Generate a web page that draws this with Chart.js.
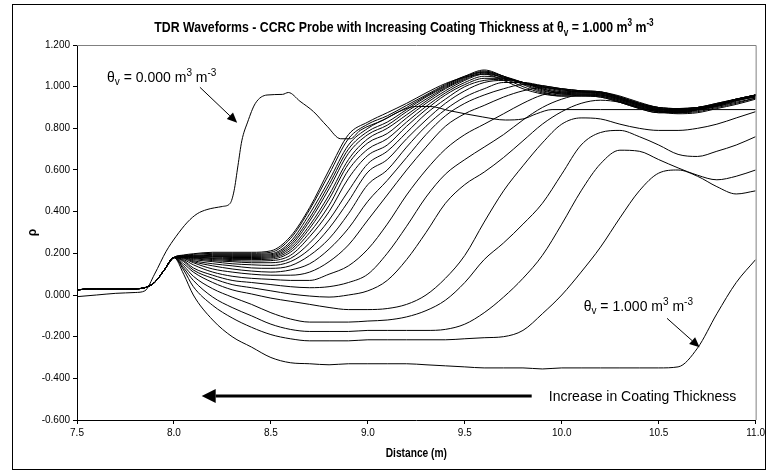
<!DOCTYPE html>
<html>
<head>
<meta charset="utf-8">
<script src="https://cdn.jsdelivr.net/npm/chart.js@4.4.1/dist/chart.umd.min.js"></script>
<style>
  html, body { margin: 0; padding: 0; background: #fff; }
  canvas { display: block; }
</style>
</head>
<body>
<canvas id="tdrChart" width="768" height="471"></canvas>
<script>
// distance grid (m) shared by the probe waveforms
const distance = [7.5, 7.6, 7.7, 7.8, 7.85, 7.9, 7.95, 8.0, 8.05, 8.1,
  8.2, 8.3, 8.4, 8.5, 8.6, 8.7, 8.8, 8.9, 9.0, 9.1, 9.2, 9.3, 9.4, 9.5, 9.6,
  9.7, 9.8, 9.9, 10.0, 10.1, 10.2, 10.3, 10.4, 10.5, 10.6, 10.7, 10.8, 10.9, 11.0];

// uncoated probe in water (theta = 1.000)
const water = [0.025, 0.03, 0.028, 0.03, 0.035, 0.06, 0.12, 0.18, 0.10, 0.00,
  -0.12, -0.20, -0.25, -0.30, -0.325, -0.33, -0.335, -0.33, -0.33, -0.33, -0.33, -0.335, -0.34, -0.345, -0.35,
  -0.35, -0.35, -0.355, -0.35, -0.35, -0.35, -0.35, -0.35, -0.35, -0.345, -0.255, -0.09, 0.06, 0.17];

// coated probes, thinnest coating first
const coat1 = [0.025, 0.03, 0.028, 0.03, 0.035, 0.06, 0.12, 0.18, 0.12, 0.04,
  -0.05, -0.11, -0.155, -0.19, -0.21, -0.22, -0.22, -0.22, -0.215, -0.215, -0.215, -0.215, -0.215, -0.21, -0.205,
  -0.20, -0.17, -0.09, 0.00, 0.11, 0.23, 0.37, 0.50, 0.585, 0.60, 0.57, 0.52, 0.485, 0.50];
const coat2 = [0.025, 0.03, 0.028, 0.03, 0.035, 0.06, 0.12, 0.18, 0.13, 0.07,
  -0.01, -0.06, -0.10, -0.14, -0.165, -0.175, -0.175, -0.175, -0.17, -0.17, -0.17, -0.17, -0.165, -0.14, -0.085,
  -0.01, 0.08, 0.19, 0.34, 0.50, 0.63, 0.695, 0.69, 0.65, 0.61, 0.575, 0.553, 0.57, 0.60];
const coat3 = [0.025, 0.03, 0.028, 0.03, 0.035, 0.06, 0.12, 0.18, 0.14, 0.09,
  0.03, -0.01, -0.045, -0.085, -0.115, -0.13, -0.13, -0.13, -0.125, -0.12, -0.105, -0.075, -0.025, 0.06, 0.17,
  0.25, 0.34, 0.44, 0.58, 0.72, 0.78, 0.79, 0.76, 0.72, 0.675, 0.665, 0.69, 0.72, 0.76];
const coat4 = [0.025, 0.03, 0.028, 0.03, 0.035, 0.06, 0.12, 0.18, 0.15, 0.11,
  0.06, 0.025, 0.005, -0.015, -0.03, -0.045, -0.06, -0.07, -0.07, -0.065, -0.045, 0.00, 0.08, 0.19, 0.35,
  0.50, 0.62, 0.73, 0.82, 0.85, 0.845, 0.82, 0.80, 0.79, 0.79, 0.80, 0.82, 0.85, 0.88];
const coat5 = [0.025, 0.03, 0.028, 0.03, 0.035, 0.06, 0.12, 0.18, 0.16, 0.12,
  0.08, 0.05, 0.035, 0.02, 0.005, -0.005, -0.01, 0.00, 0.02, 0.07, 0.17, 0.30, 0.44, 0.53, 0.59,
  0.66, 0.74, 0.82, 0.88, 0.92, 0.935, 0.925, 0.90, 0.88, 0.87, 0.875, 0.895, 0.915, 0.94];
const coat6 = [0.025, 0.03, 0.028, 0.03, 0.035, 0.06, 0.12, 0.18, 0.165, 0.13,
  0.095, 0.07, 0.06, 0.05, 0.04, 0.035, 0.04, 0.06, 0.10, 0.20, 0.33, 0.47, 0.58, 0.65, 0.71,
  0.77, 0.84, 0.90, 0.94, 0.96, 0.96, 0.94, 0.91, 0.885, 0.875, 0.88, 0.90, 0.92, 0.945];
const coat7 = [0.025, 0.03, 0.028, 0.03, 0.035, 0.06, 0.12, 0.18, 0.17, 0.145,
  0.11, 0.09, 0.08, 0.075, 0.07, 0.07, 0.10, 0.14, 0.22, 0.34, 0.48, 0.60, 0.70, 0.77, 0.82,
  0.87, 0.92, 0.96, 0.975, 0.975, 0.97, 0.95, 0.92, 0.895, 0.885, 0.89, 0.905, 0.925, 0.945];
const coat8 = [0.025, 0.03, 0.028, 0.03, 0.035, 0.06, 0.12, 0.18, 0.175, 0.155,
  0.125, 0.11, 0.10, 0.095, 0.095, 0.11, 0.16, 0.24, 0.36, 0.48, 0.60, 0.71, 0.81, 0.87, 0.91,
  0.95, 0.98, 0.995, 0.99, 0.98, 0.975, 0.955, 0.925, 0.90, 0.895, 0.90, 0.915, 0.935, 0.95];
const coat9 = [0.025, 0.03, 0.028, 0.03, 0.035, 0.06, 0.12, 0.18, 0.178, 0.16,
  0.14, 0.125, 0.115, 0.11, 0.12, 0.15, 0.22, 0.32, 0.45, 0.55, 0.66, 0.77, 0.86, 0.92, 0.96,
  0.99, 1.01, 1.005, 0.99, 0.98, 0.975, 0.95, 0.92, 0.90, 0.895, 0.90, 0.915, 0.935, 0.95];
const coat10 = [0.025, 0.03, 0.028, 0.03, 0.035, 0.06, 0.12, 0.18, 0.18, 0.165,
  0.15, 0.14, 0.13, 0.128, 0.14, 0.19, 0.27, 0.39, 0.53, 0.60, 0.71, 0.81, 0.89, 0.95, 0.99,
  1.02, 1.02, 1.005, 0.99, 0.98, 0.975, 0.95, 0.92, 0.90, 0.895, 0.90, 0.92, 0.94, 0.955];
const coat11 = [0.025, 0.03, 0.028, 0.03, 0.035, 0.06, 0.12, 0.18, 0.18, 0.17,
  0.16, 0.15, 0.145, 0.142, 0.16, 0.22, 0.32, 0.45, 0.59, 0.65, 0.75, 0.84, 0.92, 0.98, 1.02,
  1.03, 1.02, 1.0, 0.985, 0.975, 0.97, 0.945, 0.915, 0.895, 0.89, 0.90, 0.92, 0.94, 0.96];
const coat12 = [0.025, 0.03, 0.028, 0.03, 0.035, 0.06, 0.12, 0.18, 0.18, 0.175,
  0.165, 0.16, 0.155, 0.155, 0.175, 0.25, 0.36, 0.50, 0.63, 0.69, 0.78, 0.87, 0.94, 1.0, 1.03,
  1.035, 1.02, 1.0, 0.985, 0.975, 0.97, 0.945, 0.915, 0.895, 0.89, 0.90, 0.915, 0.94, 0.96];
const coat13 = [0.025, 0.03, 0.028, 0.03, 0.035, 0.06, 0.12, 0.18, 0.182, 0.178,
  0.17, 0.165, 0.163, 0.165, 0.19, 0.28, 0.40, 0.56, 0.67, 0.72, 0.81, 0.89, 0.96, 1.01, 1.04,
  1.04, 1.02, 1.0, 0.98, 0.975, 0.97, 0.945, 0.915, 0.89, 0.885, 0.895, 0.915, 0.94, 0.96];
const coat14 = [0.025, 0.03, 0.028, 0.03, 0.035, 0.06, 0.12, 0.18, 0.183, 0.18,
  0.175, 0.17, 0.17, 0.172, 0.205, 0.30, 0.43, 0.60, 0.70, 0.75, 0.83, 0.905, 0.97, 1.02, 1.05,
  1.04, 1.02, 0.995, 0.975, 0.97, 0.965, 0.94, 0.91, 0.89, 0.885, 0.895, 0.915, 0.94, 0.96];
const coat15 = [0.025, 0.03, 0.028, 0.03, 0.035, 0.06, 0.12, 0.18, 0.184, 0.182,
  0.178, 0.175, 0.175, 0.178, 0.215, 0.32, 0.46, 0.63, 0.73, 0.775, 0.85, 0.92, 0.98, 1.03, 1.06,
  1.045, 1.02, 0.99, 0.97, 0.97, 0.965, 0.94, 0.91, 0.89, 0.885, 0.895, 0.915, 0.94, 0.96];
const coat16 = [0.025, 0.03, 0.028, 0.03, 0.035, 0.06, 0.12, 0.18, 0.185, 0.184,
  0.182, 0.18, 0.18, 0.183, 0.225, 0.335, 0.48, 0.65, 0.75, 0.80, 0.865, 0.93, 0.99, 1.035, 1.065,
  1.045, 1.02, 0.99, 0.97, 0.965, 0.96, 0.935, 0.905, 0.885, 0.88, 0.89, 0.91, 0.935, 0.96];
const coat17 = [0.025, 0.03, 0.028, 0.03, 0.035, 0.06, 0.12, 0.18, 0.186, 0.186,
  0.185, 0.185, 0.185, 0.188, 0.235, 0.355, 0.51, 0.68, 0.77, 0.815, 0.88, 0.94, 0.995, 1.04, 1.07,
  1.05, 1.02, 0.985, 0.965, 0.965, 0.96, 0.935, 0.905, 0.885, 0.88, 0.89, 0.91, 0.935, 0.96];
const coat18 = [0.025, 0.03, 0.028, 0.03, 0.035, 0.06, 0.12, 0.18, 0.187, 0.188,
  0.19, 0.19, 0.19, 0.193, 0.245, 0.37, 0.53, 0.70, 0.785, 0.83, 0.89, 0.95, 1.0, 1.045, 1.075,
  1.05, 1.015, 0.98, 0.965, 0.96, 0.955, 0.93, 0.90, 0.88, 0.875, 0.885, 0.905, 0.93, 0.955];
const coat19 = [0.025, 0.03, 0.028, 0.03, 0.035, 0.06, 0.12, 0.18, 0.188, 0.19,
  0.195, 0.195, 0.195, 0.198, 0.255, 0.39, 0.55, 0.72, 0.80, 0.85, 0.90, 0.955, 1.005, 1.05, 1.08,
  1.05, 1.01, 0.975, 0.96, 0.96, 0.955, 0.93, 0.90, 0.88, 0.88, 0.89, 0.91, 0.935, 0.96];
const coat20 = [0.025, 0.03, 0.028, 0.03, 0.035, 0.06, 0.12, 0.18, 0.19, 0.195,
  0.20, 0.20, 0.20, 0.205, 0.27, 0.41, 0.58, 0.75, 0.82, 0.86, 0.91, 0.96, 1.01, 1.05, 1.07,
  1.04, 1.0, 0.97, 0.955, 0.955, 0.95, 0.925, 0.895, 0.875, 0.875, 0.89, 0.91, 0.935, 0.96];
const coat21 = [0.025, 0.03, 0.028, 0.03, 0.035, 0.06, 0.12, 0.18, 0.192, 0.198,
  0.205, 0.205, 0.205, 0.212, 0.28, 0.42, 0.60, 0.77, 0.83, 0.875, 0.92, 0.97, 1.015, 1.045, 1.06,
  1.03, 0.99, 0.965, 0.955, 0.955, 0.95, 0.925, 0.895, 0.875, 0.875, 0.89, 0.91, 0.935, 0.955];

// probe in air (theta = 0.000), sampled on its own grid
const airDistance = [7.5, 7.6, 7.7, 7.8, 7.85, 7.9, 7.96, 8.01, 8.07, 8.12,
  8.17, 8.25, 8.29, 8.31, 8.33, 8.35, 8.38, 8.42, 8.48, 8.56,
  8.59, 8.65, 8.72, 8.79, 8.86, 8.91, 8.96, 9.08, 9.16, 9.25,
  9.32, 9.42, 9.59, 9.71, 9.80, 9.87, 9.95, 10.2, 10.6, 11.0];
const air = [-0.008, 0.0, 0.008, 0.012, 0.02, 0.10, 0.21, 0.28, 0.35, 0.39,
  0.41, 0.425, 0.44, 0.50, 0.62, 0.74, 0.83, 0.92, 0.96, 0.963,
  0.972, 0.93, 0.88, 0.81, 0.75, 0.75, 0.79, 0.84, 0.88, 0.905,
  0.905, 0.885, 0.855, 0.84, 0.845, 0.87, 0.89, 0.89, 0.89, 0.89];

const coated = [coat1, coat2, coat3, coat4, coat5, coat6, coat7, coat8, coat9, coat10, coat11,
  coat12, coat13, coat14, coat15, coat16, coat17, coat18, coat19, coat20, coat21];

const lineStyle = {
  borderColor: '#000',
  borderWidth: 1,
  pointRadius: 0,
  fill: false,
  cubicInterpolationMode: 'monotone'
};

const datasets = [water, ...coated].map((vals, i) => ({
  label: i === 0 ? 'water' : 'coating ' + i,
  data: distance.map((d, j) => ({ x: d, y: vals[j] })),
  ...lineStyle
}));
datasets.push({
  label: 'air',
  data: airDistance.map((d, j) => ({ x: d, y: air[j] })),
  ...lineStyle
});

const sans = '"Liberation Sans", Arial, sans-serif';

// draw a run of text pieces: [text, 0 normal | 1 subscript | 2 superscript]
// squeeze < 1 narrows the glyphs (the original uses a narrow face)
function richText(ctx, parts, x, y, size, weight, align, squeeze = 1) {
  const small = Math.round(size * 0.68);
  const fontFor = m => `${weight} ${m ? small : size}px ${sans}`;
  let total = 0;
  parts.forEach(([t, m]) => { ctx.font = fontFor(m); total += ctx.measureText(t).width; });
  ctx.save();
  ctx.translate(align === 'center' ? x - total * squeeze / 2 : x, y);
  ctx.scale(squeeze, 1);
  ctx.textBaseline = 'alphabetic';
  ctx.textAlign = 'left';
  let cx = 0;
  parts.forEach(([t, m]) => {
    ctx.font = fontFor(m);
    const dy = m === 1 ? size * 0.22 : m === 2 ? -size * 0.4 : 0;
    ctx.fillText(t, cx, size * 0.35 + dy);
    cx += ctx.measureText(t).width;
  });
  ctx.restore();
}

function arrow(ctx, x0, y0, x1, y1, width, head, half) {
  const ang = Math.atan2(y1 - y0, x1 - x0);
  const bx = x1 - head * Math.cos(ang), by = y1 - head * Math.sin(ang);
  ctx.lineWidth = width;
  ctx.beginPath();
  ctx.moveTo(x0, y0);
  ctx.lineTo(bx, by);
  ctx.stroke();
  ctx.beginPath();
  ctx.moveTo(x1, y1);
  ctx.lineTo(bx + half * Math.sin(ang), by - half * Math.cos(ang));
  ctx.lineTo(bx - half * Math.sin(ang), by + half * Math.cos(ang));
  ctx.closePath();
  ctx.fill();
}

const notes = {
  airLabel: [7.655, 1.048],
  airArrow: [8.134, 0.997, 8.326, 0.827],
  waterLabel: [10.113, -0.053],
  waterArrow: [10.543, -0.112, 10.711, -0.251],
  trendArrow: [9.845, -0.485, 8.143, -0.485],
  trendLabel: [9.933, -0.485]
};

const decorations = {
  id: 'decorations',
  afterDraw(chart) {
    const { ctx, chartArea: a, scales: { x, y } } = chart;
    const px = v => x.getPixelForValue(v);
    const py = v => y.getPixelForValue(v);
    ctx.save();

    // chart frame
    ctx.strokeStyle = '#000';
    ctx.lineWidth = 1;
    ctx.strokeRect(12.5, 4.5, 753, 465);

    // plot area top and right edges
    ctx.strokeStyle = '#808080';
    ctx.beginPath();
    ctx.moveTo(a.left, a.top + 0.5);
    ctx.lineTo(a.right + 0.5, a.top + 0.5);
    ctx.lineTo(a.right + 0.5, a.bottom);
    ctx.stroke();

    ctx.fillStyle = '#000';
    ctx.strokeStyle = '#000';

    // title
    richText(ctx, [['TDR Waveforms - CCRC Probe with Increasing Coating Thickness at ', 0],
      ['θ', 0], ['v', 1], [' = 1.000 m', 0], ['3', 2], [' m', 0], ['-3', 2]],
      404, 27, 15, 'bold', 'center', 0.82);

    // axis titles
    richText(ctx, [['Distance (m)', 0]], (a.left + a.right) / 2, 453, 12, 'bold', 'center', 0.85);
    ctx.save();
    ctx.translate(33, (a.top + a.bottom) / 2);
    ctx.rotate(-Math.PI / 2);
    ctx.font = `bold 12px ${sans}`;
    ctx.textAlign = 'center';
    ctx.textBaseline = 'middle';
    ctx.fillText('ρ', 0, 0);
    ctx.restore();

    // annotations
    const theta = v => [['θ', 0], ['v', 1], [' = ' + v + ' m', 0], ['3', 2], [' m', 0], ['-3', 2]];
    richText(ctx, theta('0.000'), px(notes.airLabel[0]), py(notes.airLabel[1]), 14, 'normal', 'left');
    richText(ctx, theta('1.000'), px(notes.waterLabel[0]), py(notes.waterLabel[1]), 14, 'normal', 'left');
    let n = notes.airArrow;
    arrow(ctx, px(n[0]), py(n[1]), px(n[2]), py(n[3]), 1, 10, 4.5);
    n = notes.waterArrow;
    arrow(ctx, px(n[0]), py(n[1]), px(n[2]), py(n[3]), 1, 10, 4.5);
    n = notes.trendArrow;
    arrow(ctx, px(n[0]), py(n[1]), px(n[2]), py(n[3]), 3, 14, 7);
    richText(ctx, [['Increase in Coating Thickness', 0]],
      px(notes.trendLabel[0]), py(notes.trendLabel[1]), 14, 'normal', 'left');

    ctx.restore();
  }
};

const tickFont = { family: sans, size: 10 };

new Chart(document.getElementById('tdrChart'), {
  type: 'line',
  data: { datasets },
  options: {
    responsive: false,
    animation: false,
    devicePixelRatio: 1,
    layout: { padding: { left: 0, right: 11, top: 45, bottom: 0 } },
    plugins: {
      legend: { display: false },
      tooltip: { enabled: false },
      title: { display: false }
    },
    scales: {
      x: {
        type: 'linear',
        min: 7.5,
        max: 11,
        afterFit: s => { s.height = 51; },
        ticks: {
          stepSize: 0.5,
          maxRotation: 0,
          padding: 3,
          font: tickFont,
          color: '#000',
          callback: v => v.toFixed(1)
        },
        grid: { drawOnChartArea: false, tickLength: 4, color: '#000' },
        border: { color: '#000', width: 1 }
      },
      y: {
        type: 'linear',
        min: -0.6,
        max: 1.2,
        afterFit: s => { s.width = 77; },
        ticks: {
          stepSize: 0.2,
          padding: 3,
          font: tickFont,
          color: '#000',
          callback: v => (Math.abs(v) < 1e-9 ? 0 : v).toFixed(3)
        },
        grid: { drawOnChartArea: false, tickLength: 4, color: '#000' },
        border: { color: '#000', width: 1 }
      }
    }
  },
  plugins: [decorations]
});
</script>
</body>
</html>
